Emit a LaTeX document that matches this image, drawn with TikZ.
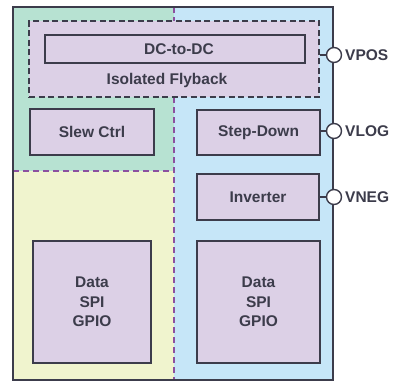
\documentclass[tikz,border=0pt]{standalone}
\usepackage{fontspec}
\setmainfont{Liberation Sans}
\begin{document}
\begin{tikzpicture}[x=1pt,y=-1pt,
  every node/.style={font=\fontsize{15.5}{19.4}\selectfont\bfseries, text=dk},
  blk/.style={draw=dk, line width=1.6pt, fill=pu, inner sep=0pt},
  flyb/.style={draw=dk, line width=1.6pt, fill=pu, dash pattern=on 6pt off 3.5pt, inner sep=0pt},
  region/.style={draw=none},
  divider/.style={draw=pd, line width=1.6pt, dash pattern=on 6pt off 4pt},
  port/.style={circle, draw=dk, line width=1.4pt, fill=white, minimum size=15pt, inner sep=0pt},
  wire/.style={draw=dk, line width=1.4pt},
  plabel/.style={anchor=west, inner sep=0pt}
]
\definecolor{dk}{RGB}{60,60,75}
\definecolor{gr}{RGB}{183,226,210}
\definecolor{ye}{RGB}{240,244,206}
\definecolor{bl}{RGB}{198,230,248}
\definecolor{pu}{RGB}{220,208,230}
\definecolor{pd}{RGB}{140,80,160}
\useasboundingbox (0,0) rectangle (394,381);
% regions
\fill[gr] (13,7) rectangle (174,171);
\fill[ye] (13,171) rectangle (174,380);
\fill[bl] (174,7) rectangle (333,380);
\draw[divider] (174,7) -- (174,380);
\draw[divider] (13,171) -- (174,171);
% blocks
\node[flyb, minimum width=290pt, minimum height=76pt] (flyback) at (174,59) {};
\node[blk, minimum width=260pt, minimum height=28pt] (dcdc) at (175,49) {\hspace*{8pt}DC-to-DC};
\node (flybl) at (167,80) {Isolated Flyback};
\node[blk, minimum width=124pt, minimum height=46pt] (slew) at (92,132) {Slew Ctrl};
\node[blk, minimum width=123pt, minimum height=45pt] (step) at (258.5,132.5) {Step-Down};
\node[blk, minimum width=122pt, minimum height=46pt] (inv) at (258,197) {Inverter};
\node[blk, minimum width=118pt, minimum height=122pt, align=center] (datal) at (92,302) {Data\\SPI\\GPIO};
\node[blk, minimum width=123pt, minimum height=122pt, align=center] (datar) at (258.5,302) {Data\\SPI\\GPIO};
% outer border
\draw[dk, line width=1.5pt] (13,7) rectangle (333,380);
% ports
\node[port] (vpos) at (334,55) {};
\node[port] (vlog) at (334,131) {};
\node[port] (vneg) at (334,197) {};
\draw[wire] (vpos -| flyback.east) -- (vpos.west);
\draw[wire] (vlog -| step.east) -- (vlog.west);
\draw[wire] (vneg -| inv.east) -- (vneg.west);
\node[plabel] (lpos) at (345,55) {VPOS};
\node[plabel] (llog) at (345,131) {VLOG};
\node[plabel] (lneg) at (345,197) {VNEG};
\end{tikzpicture}
\end{document}
